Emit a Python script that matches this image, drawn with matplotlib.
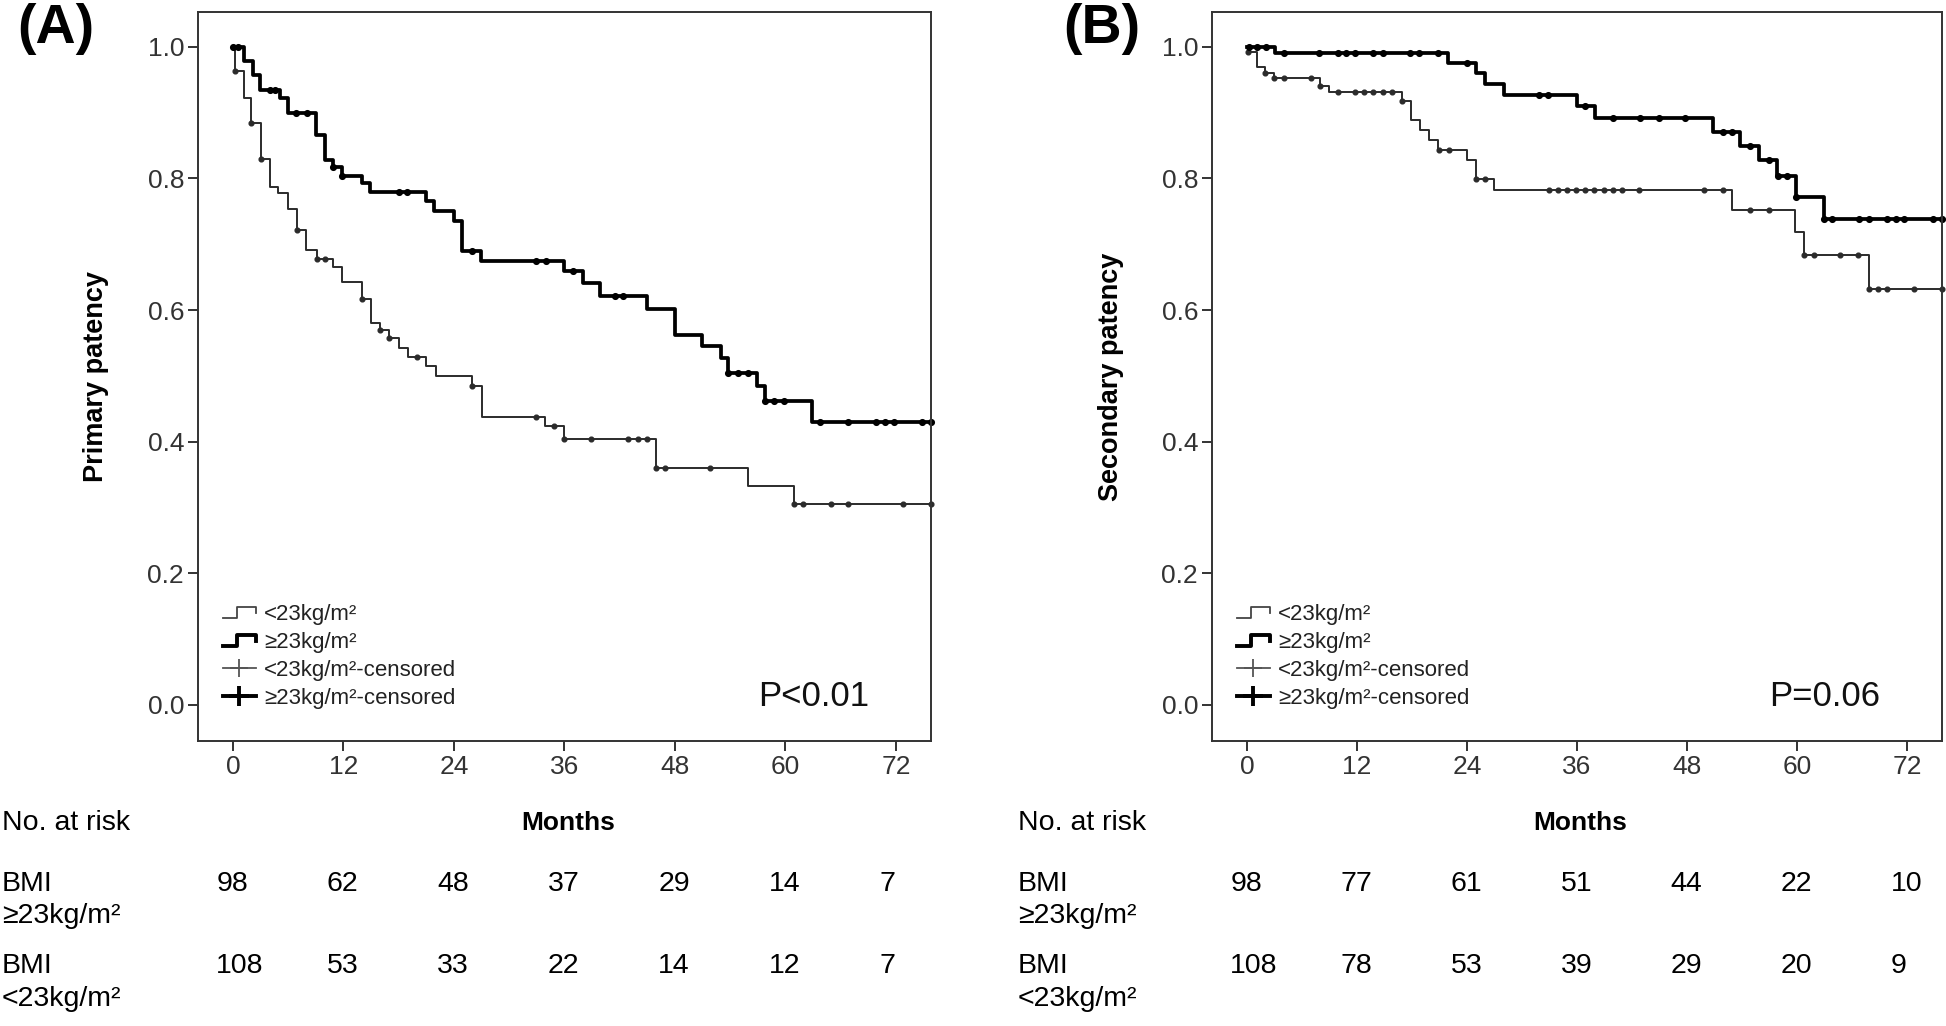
import matplotlib
matplotlib.use("Agg")
import matplotlib.pyplot as plt
import numpy as np
from matplotlib.legend_handler import HandlerBase
from matplotlib.lines import Line2D
from matplotlib.transforms import blended_transform_factory

# ---------------- data ---------------- #
months_ticks = [0, 12, 24, 36, 48, 60, 72]

# (A) primary patency
a_hi_t = [0, 1.2, 2.2, 2.9, 5.1, 6.0, 9.0, 10.0, 10.9, 11.9, 14.0, 14.9, 21.0, 21.8,
          24.0, 24.9, 26.9, 35.9, 38.0, 39.9, 45.0, 48.0, 50.9, 53.0, 53.8, 56.9, 57.8, 62.9]
a_hi_s = [1.0, 0.978, 0.957, 0.935, 0.922, 0.899, 0.866, 0.828, 0.818, 0.804, 0.793, 0.779,
          0.765, 0.750, 0.735, 0.690, 0.675, 0.659, 0.641, 0.621, 0.602, 0.562, 0.545, 0.527,
          0.505, 0.484, 0.461, 0.430]
a_hi_cens = [0.0, 0.5, 4.0, 4.6, 6.9, 8.0, 10.9, 11.9, 18.0, 18.9, 26.0, 32.9, 34.0, 36.9,
             41.5, 42.4, 53.8, 54.9, 55.9, 57.8, 58.8, 59.8, 63.8, 66.8, 69.8, 70.8, 71.8,
             74.8, 75.8]

a_lo_t = [0, 0.2, 1.2, 2.0, 3.0, 4.0, 4.9, 6.0, 7.0, 7.9, 9.1, 10.9, 11.9, 14.0, 15.0, 16.0,
          17.0, 18.0, 19.0, 21.0, 22.0, 26.0, 27.0, 33.9, 35.9, 45.9, 55.9, 60.9]
a_lo_s = [1.0, 0.963, 0.922, 0.884, 0.830, 0.787, 0.778, 0.754, 0.722, 0.691, 0.678, 0.666,
          0.642, 0.617, 0.581, 0.570, 0.557, 0.543, 0.529, 0.515, 0.500, 0.484, 0.438, 0.423,
          0.404, 0.360, 0.333, 0.305]
a_lo_cens = [0.2, 2.0, 3.0, 7.0, 9.1, 10.0, 14.0, 16.0, 17.0, 20.0, 26.0, 32.9, 34.9, 35.9,
             38.9, 42.9, 44.0, 45.0, 45.9, 46.9, 51.8, 60.9, 61.9, 64.9, 66.8, 72.8, 75.8]

a_risk_hi = [98, 62, 48, 37, 29, 14, 7]
a_risk_lo = [108, 53, 33, 22, 14, 12, 7]

# (B) secondary patency
b_hi_t = [0, 3.1, 21.9, 25.0, 26.0, 28.0, 36.0, 38.0, 50.8, 53.8, 55.8, 57.8, 59.9, 62.9]
b_hi_s = [1.0, 0.990, 0.975, 0.961, 0.944, 0.927, 0.910, 0.892, 0.871, 0.850, 0.828, 0.803,
          0.772, 0.738]
b_hi_cens = [0.2, 1.1, 2.1, 4.1, 7.9, 9.9, 10.8, 11.8, 13.8, 14.8, 17.8, 18.8, 20.8, 24.0,
             31.9, 32.8, 36.9, 39.9, 42.9, 44.9, 47.8, 51.9, 52.9, 54.9, 56.9, 57.9, 58.9,
             59.9, 62.9, 63.8, 66.8, 67.8, 69.8, 70.8, 71.7, 74.8, 75.8]

b_lo_t = [0, 0.1, 1.1, 2.0, 3.0, 8.0, 9.0, 16.9, 17.9, 18.9, 19.9, 20.9, 24.0, 25.0, 27.0,
          52.9, 59.8, 60.8, 67.8]
b_lo_s = [1.0, 0.992, 0.970, 0.961, 0.952, 0.941, 0.931, 0.917, 0.889, 0.874, 0.859, 0.844,
          0.828, 0.799, 0.782, 0.752, 0.719, 0.684, 0.632]
b_lo_cens = [0.1, 2.0, 3.0, 4.1, 7.0, 8.0, 9.9, 11.8, 12.8, 13.8, 14.8, 15.8, 16.9, 21.0,
             22.0, 25.0, 26.0, 32.9, 33.9, 34.9, 35.9, 36.9, 37.9, 38.9, 39.9, 40.9, 42.8,
             49.9, 51.9, 54.9, 56.9, 60.8, 61.8, 64.7, 66.7, 67.8, 68.8, 69.8, 72.8, 75.8]

b_risk_hi = [98, 77, 61, 51, 44, 22, 10]
b_risk_lo = [108, 78, 53, 39, 29, 20, 9]

XMIN, XMAX = -3.8, 75.8
THIN_C, THICK_C = "#2b2b2b", "black"
THIN_LW, THICK_LW = 1.4, 2.7

plt.rcParams["font.family"] = ["Liberation Sans", "DejaVu Sans"]
plt.rcParams["axes.edgecolor"] = "#333333"
plt.rcParams["axes.linewidth"] = 1.4
plt.rcParams["xtick.color"] = "#333333"
plt.rcParams["ytick.color"] = "#333333"


class StepHandler(HandlerBase):
    # legend icon in the SPSS style: low line, step up, short drop at the end
    def create_artists(self, legend, orig_handle, xdescent, ydescent, width, height,
                       fontsize, trans):
        x0, y0 = -xdescent, -ydescent
        xs = [x0, x0 + 0.42 * width, x0 + 0.42 * width, x0 + width, x0 + width]
        ys = [y0 + 0.1 * height, y0 + 0.1 * height, y0 + 0.85 * height,
              y0 + 0.85 * height, y0 + 0.45 * height]
        ln = Line2D(xs, ys, color=orig_handle.get_color(),
                    lw=orig_handle.get_linewidth(), transform=trans)
        return [ln]


def surv_at(t_ev, s_ev, t):
    idx = np.searchsorted(np.array(t_ev), np.array(t), side="right") - 1
    return np.array(s_ev)[idx]


def draw_km(ax, t, s, cens, color, lw, ms):
    ax.step(list(t) + [XMAX], list(s) + [s[-1]], where="post", color=color, lw=lw)
    ax.plot(cens, surv_at(t, s, cens), "o", ms=ms, color=color, clip_on=False)


def draw_panel(fig, rect, tag, tag_x, ylabel, pval, lo, hi, risk_hi, risk_lo, table_x):
    ax = fig.add_axes(rect)
    draw_km(ax, lo[0], lo[1], lo[2], THIN_C, THIN_LW, 3.4)
    draw_km(ax, hi[0], hi[1], hi[2], THICK_C, THICK_LW, 4.1)

    ax.set_xlim(XMIN, XMAX)
    ax.set_ylim(-0.055, 1.053)
    ax.set_xticks(months_ticks)
    ax.set_yticks(np.arange(0, 1.01, 0.2))
    ax.set_yticklabels([f"{v:.1f}" for v in np.arange(0, 1.01, 0.2)])
    ax.tick_params(length=7, width=1.4, labelsize=19, pad=3, labelcolor="#333333")

    ax.set_ylabel(ylabel, fontsize=19.5, fontweight="bold")
    ax.yaxis.set_label_coords(-0.121, 0.5)
    ax.set_xlabel("Months", fontsize=19, fontweight="bold")
    ax.xaxis.set_label_coords(0.505, -0.096)

    handles = [
        Line2D([], [], color="#444444", lw=1.3),
        Line2D([], [], color="black", lw=2.8),
        Line2D([], [], color="#555555", lw=1.3, marker="+", ms=13, mew=1.3),
        Line2D([], [], color="black", lw=2.8, marker="+", ms=14, mew=2.8),
    ]
    labels = ["<23kg/m²", "≥23kg/m²", "<23kg/m²-censored", "≥23kg/m²-censored"]
    ax.legend(handles, labels, loc="upper left", bbox_to_anchor=(0.034, 0.188),
              frameon=False, fontsize=16, handlelength=1.5, handletextpad=0.35,
              labelspacing=0.32, borderpad=0, borderaxespad=0, labelcolor="#222222",
              handler_map={handles[0]: StepHandler(), handles[1]: StepHandler()})

    ax.text(57.0, 0.012, pval, fontsize=25, ha="left", va="center", color="#111111")

    fig.text(tag_x, 0.972, tag, fontsize=40, fontweight="bold", ha="center", va="center")

    # number at risk table below the axes
    tr = blended_transform_factory(ax.transData, fig.transFigure)
    fs = 20.5
    fig.text(table_x, 0.198, "No. at risk", fontsize=fs, va="center", ha="left")
    fig.text(table_x, 0.138, "BMI", fontsize=fs, va="center", ha="left")
    fig.text(table_x, 0.107, "≥23kg/m²", fontsize=fs, va="center", ha="left")
    fig.text(table_x, 0.058, "BMI", fontsize=fs, va="center", ha="left")
    fig.text(table_x, 0.026, "<23kg/m²", fontsize=fs, va="center", ha="left")
    for m, n_hi, n_lo in zip(months_ticks, risk_hi, risk_lo):
        ax.text(m - 1.8, 0.138, str(n_hi), transform=tr, fontsize=fs, va="center",
                ha="left", clip_on=False)
        ax.text(m - 1.8, 0.058, str(n_lo), transform=tr, fontsize=fs, va="center",
                ha="left", clip_on=False)
    return ax


fig = plt.figure(figsize=(19.46, 10.26), dpi=100)

draw_panel(fig, [0.1017, 0.2778, 0.3767, 0.7105], "(A)", 0.0285, "Primary patency", "P<0.01",
           (a_lo_t, a_lo_s, a_lo_cens), (a_hi_t, a_hi_s, a_hi_cens),
           a_risk_hi, a_risk_lo, 0.001)
draw_panel(fig, [0.6228, 0.2778, 0.3751, 0.7105], "(B)", 0.566, "Secondary patency", "P=0.06",
           (b_lo_t, b_lo_s, b_lo_cens), (b_hi_t, b_hi_s, b_hi_cens),
           b_risk_hi, b_risk_lo, 0.523)

fig.savefig("out.png", dpi=100)
